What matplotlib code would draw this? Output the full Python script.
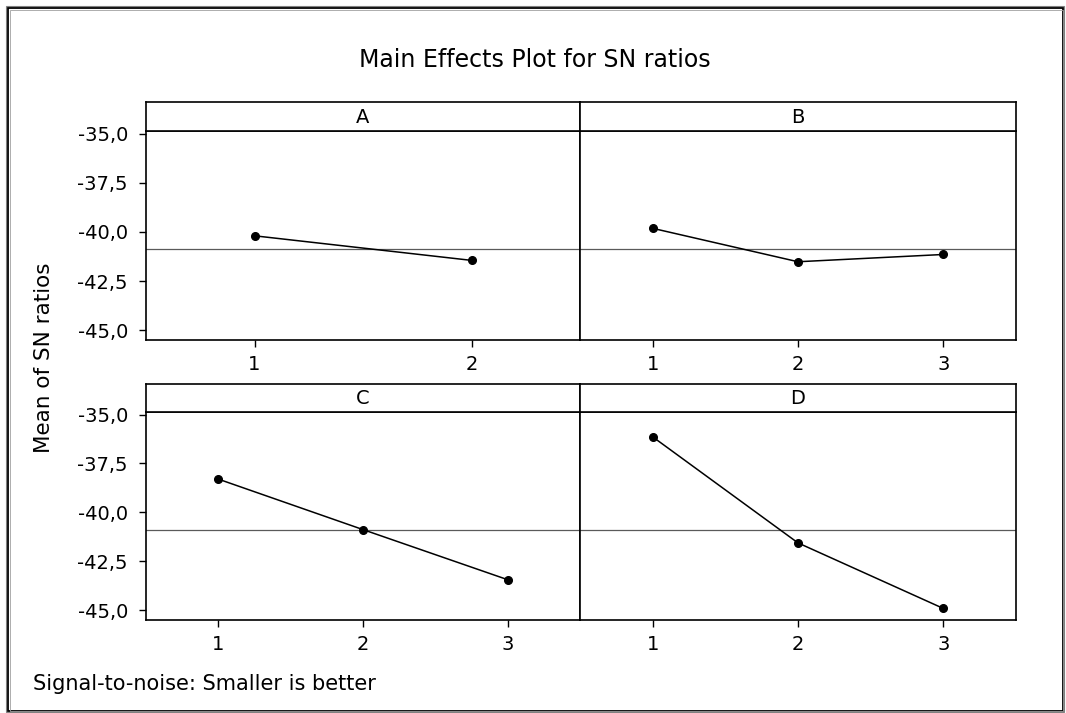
import matplotlib
matplotlib.use("Agg")
import matplotlib.pyplot as plt
from matplotlib.patches import Rectangle
from matplotlib.ticker import FuncFormatter

plt.rcParams["font.family"] = ["DejaVu Sans"]

# Mean SN ratio per factor level
factors = ["A", "B", "C", "D"]
levels = {
    "A": [1, 2],
    "B": [1, 2, 3],
    "C": [1, 2, 3],
    "D": [1, 2, 3],
}
means = {
    "A": [-40.20, -41.45],
    "B": [-39.82, -41.52, -41.15],
    "C": [-38.30, -40.88, -43.44],
    "D": [-36.14, -41.56, -44.91],
}
grand_mean = -40.88
y_ticks = [-35.0, -37.5, -40.0, -42.5, -45.0]

W, H = 1066, 713
fig = plt.figure(figsize=(W / 100, H / 100), dpi=100)


def px_box(x0, y0, x1, y1):
    # pixel box (top-left origin) -> figure fraction rect
    return [x0 / W, (H - y1) / H, (x1 - x0) / W, (y1 - y0) / H]


comma = FuncFormatter(lambda v, _: f"{v:.1f}".replace(".", ","))

panels = {
    "A": (146, 580, 102, 131, 340),
    "B": (580, 1016, 102, 131, 340),
    "C": (146, 580, 384, 412, 620),
    "D": (580, 1016, 384, 412, 620),
}

for name in factors:
    x0, x1, s0, s1, yb = panels[name]
    ax = fig.add_axes(px_box(x0, s1, x1, yb))
    ax.axhline(grand_mean, color="#5a5a5a", lw=0.9, zorder=1)
    ax.plot(levels[name], means[name], color="black", lw=1.1,
            marker="o", ms=5.5, zorder=3)
    ax.set_xlim(0.5, len(levels[name]) + 0.5)
    ax.set_ylim(-45.5, -34.87)
    ax.set_xticks(levels[name])
    ax.set_yticks(y_ticks)
    ax.yaxis.set_major_formatter(comma)
    ax.tick_params(direction="out", length=5, width=1.0, labelsize=14,
                   colors="black")
    ax.tick_params(axis="y", pad=8)
    ax.tick_params(axis="x", pad=6)
    if name in ("B", "D"):
        ax.tick_params(axis="y", left=False, labelleft=False)
    for sp in ax.spines.values():
        sp.set_linewidth(1.2)

    # strip header above each panel
    sax = fig.add_axes(px_box(x0, s0, x1, s1))
    sax.set_xticks([])
    sax.set_yticks([])
    for sp in sax.spines.values():
        sp.set_linewidth(1.2)
    sax.text(0.5, 0.48, name, ha="center", va="center", fontsize=14,
             transform=sax.transAxes)

fig.text(535 / W, 1 - 60 / H, "Main Effects Plot for SN ratios",
         ha="center", va="center", fontsize=17)
fig.text(44 / W, 1 - 358 / H, "Mean of SN ratios", rotation=90,
         ha="center", va="center", fontsize=15.5)
fig.text(33 / W, 1 - 684 / H, "Signal-to-noise: Smaller is better",
         ha="left", va="center", fontsize=15)

# window-style frame around the graph
fig.patches.append(Rectangle((6 / W, 1 / H), 1058 / W, 706 / H,
                             transform=fig.transFigure, fill=False,
                             ec="#808080", lw=0.8))
fig.patches.append(Rectangle((7.5 / W, 2 / H), 1055 / W, 703.5 / H,
                             transform=fig.transFigure, fill=False,
                             ec="black", lw=1.3))
fig.patches.append(Rectangle((10 / W, 2 / H), 1053 / W, 701 / H,
                             transform=fig.transFigure, fill=False,
                             ec="#a0a0a0", lw=0.6))

fig.savefig("out.png", dpi=100)
